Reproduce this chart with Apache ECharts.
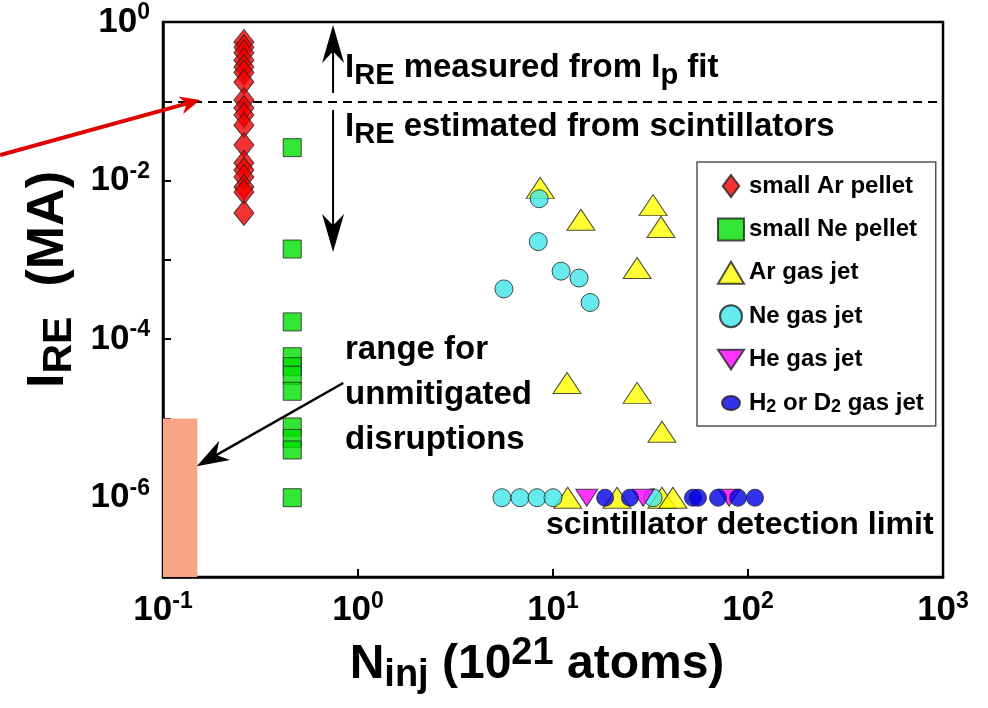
<!DOCTYPE html>
<html>
<head>
<meta charset="utf-8">
<script src="https://cdn.jsdelivr.net/npm/echarts@6/dist/echarts.min.js"></script>
<style>
  html, body { margin: 0; padding: 0; background: #fff; }
  #chart { width: 988px; height: 708px; }
</style>
</head>
<body>
<div id="chart"></div>
<script>
const FONT = '"Liberation Sans", Arial, Helvetica, sans-serif';

// Injected quantity N_inj (10^21 atoms) and runaway current I_RE (MA)
const arPelletN = [0.26, 0.26, 0.26, 0.26, 0.26, 0.26, 0.26, 0.26, 0.26, 0.26, 0.26, 0.26, 0.26, 0.26, 0.26, 0.26, 0.26, 0.26];
const arPelletI = [0.56, 0.48, 0.41, 0.33, 0.27, 0.23, 0.175, 0.104, 0.082, 0.067, 0.050, 0.028, 0.0167, 0.0136, 0.0111, 0.0083, 0.0072, 0.0039];

const nePelletN = [0.46, 0.46, 0.46, 0.46, 0.46, 0.46, 0.46, 0.46, 0.46, 0.46, 0.46];
const nePelletI = [0.026, 0.00137, 1.65e-4, 6.0e-5, 4.5e-5, 3.5e-5, 2.2e-5, 7.8e-6, 5.6e-6, 4.0e-6, 1.0e-6];

const arJetN = [8.6, 13.9, 32.6, 35.8, 27.0, 11.8, 27.0, 36.2, 11.9, 21.3, 36.2, 41.2];
const arJetI = [0.0081, 0.0032, 0.0049, 0.0026, 7.9e-4, 2.8e-5, 2.1e-5, 6.8e-6, 1e-6, 1e-6, 1e-6, 1e-6];

const neJetN = [8.5, 8.4, 11.0, 13.6, 15.5, 5.6, 5.47, 6.77, 8.28, 10.0, 32.6];
const neJetI = [0.0059, 0.0017, 7.2e-4, 5.9e-4, 2.9e-4, 4.3e-4, 1e-6, 1e-6, 1e-6, 1e-6, 1e-6];

const heJetN = [14.9, 29.0, 80.0];
const heJetI = [1e-6, 1e-6, 1e-6];

const hdJetN = [18.5, 24.8, 52.2, 55.4, 70.2, 88.9, 108.6];
const hdJetI = [1e-6, 1e-6, 1e-6, 1e-6, 1e-6, 1e-6, 1e-6];

const seriesNames = ['small Ar pellet', 'small Ne pellet', 'Ar gas jet', 'Ne gas jet', 'He gas jet', 'H2 or D2 gas jet'];

// Thresholds drawn as dashed lines (MA)
const ipFitThreshold = 0.1;
const detectionLimit = 1e-6;
// Range for unmitigated disruptions
const unmitigatedN = [0.1, 0.15];
const unmitigatedI = [1e-7, 1e-5];

// Decade exponents that carry tick labels
const xLabelExps = [-1, 0, 1, 2, 3];
const yLabelExps = [0, -2, -4, -6];

const chart = echarts.init(document.getElementById('chart'));

const tickRich = {
  b: { fontFamily: FONT, fontWeight: 'bold', fontSize: 35, lineHeight: 41, color: '#000' },
  s: { fontFamily: FONT, fontWeight: 'bold', fontSize: 23, lineHeight: 23, verticalAlign: 'top', color: '#000' }
};
function decadeLabel(v, allowed) {
  const e = Math.round(Math.log10(v));
  if (allowed.indexOf(e) < 0) return '';
  return '{b|10}{s|' + e + '}';
}
const pairs = (xs, ys) => xs.map((x, i) => [x, ys[i]]);
const edge = { borderColor: '#222', borderWidth: 1 };
const downTri = 'path://M0,0 L20,0 L10,15 Z';
const tallDiamond = 'path://M9,0 L18,12 L9,24 L0,12 Z';
// small ellipse inside a wider box so the legend icon keeps its size
const ellipse = 'path://M0,0 M26,22 M4,11 A9,7 0 1,0 22,11 A9,7 0 1,0 4,11 Z';

const option = {
  animation: false,
  backgroundColor: '#fff',
  grid: { left: 163, top: 22, right: 45, bottom: 131, show: true, borderColor: '#000', borderWidth: 2.5, containLabel: false },
  xAxis: {
    type: 'log', logBase: 10, min: 0.1, max: 1000, splitNumber: 4,
    axisLine: { lineStyle: { color: '#000', width: 2.5 } },
    axisTick: { inside: true, length: 8, lineStyle: { color: '#000', width: 2 } },
    splitLine: { show: false },
    axisLabel: { margin: 13, formatter: v => decadeLabel(v, xLabelExps), rich: tickRich },
    name: '{m|N}{sb|inj}{m| (10}{sp|21}{m| atoms)}',
    nameLocation: 'middle', nameGap: 58,
    nameTextStyle: {
      padding: [0, 32, 0, 0],
      rich: {
        m: { fontFamily: FONT, fontWeight: 'bold', fontSize: 48, lineHeight: 60, color: '#000' },
        sb: { fontFamily: FONT, fontWeight: 'bold', fontSize: 38, lineHeight: 38, verticalAlign: 'bottom', color: '#000' },
        sp: { fontFamily: FONT, fontWeight: 'bold', fontSize: 38, lineHeight: 38, verticalAlign: 'top', color: '#000' }
      }
    }
  },
  yAxis: {
    type: 'log', logBase: 10, min: 1e-7, max: 1, splitNumber: 7,
    axisLine: { lineStyle: { color: '#000', width: 2.5 } },
    axisTick: { inside: true, length: 8, lineStyle: { color: '#000', width: 2 } },
    splitLine: { show: false },
    axisLabel: { margin: 13, formatter: v => decadeLabel(v, yLabelExps), rich: tickRich },
    name: '{m|I}{sb|RE}{g| }{m|(MA)}',
    nameLocation: 'middle', nameGap: 82, nameRotate: 90,
    nameTextStyle: {
      padding: [0, 0, 0, 40],
      rich: {
        m: { fontFamily: FONT, fontWeight: 'bold', fontSize: 52, lineHeight: 62, color: '#000' },
        sb: { fontFamily: FONT, fontWeight: 'bold', fontSize: 41, lineHeight: 41, verticalAlign: 'bottom', color: '#000' },
        g: { fontSize: 48, width: 30 }
      }
    }
  },
  legend: {
    left: 697, top: 162, orient: 'vertical',
    padding: [12, 12, 10, 20],
    itemGap: 19.4, itemWidth: 26, itemHeight: 22,
    borderColor: '#555', borderWidth: 1.5, backgroundColor: '#fff',
    data: [
      { name: seriesNames[0], icon: tallDiamond },
      { name: seriesNames[1], icon: 'rect' },
      { name: seriesNames[2], icon: 'triangle' },
      { name: seriesNames[3], icon: 'circle' },
      { name: seriesNames[4], icon: downTri },
      { name: seriesNames[5], icon: ellipse }
    ],
    formatter: name => name === seriesNames[5]
      ? '{t|H}{s|2}{t| or D}{s|2}{t| gas jet}'
      : '{t|' + name + '}',
    textStyle: {
      rich: {
        t: { fontFamily: FONT, fontWeight: 'bold', fontSize: 24, lineHeight: 26, color: '#000' },
        s: { fontFamily: FONT, fontWeight: 'bold', fontSize: 18, lineHeight: 18, verticalAlign: 'bottom', color: '#000' }
      }
    }
  },
  series: [
    {
      name: seriesNames[0], type: 'scatter', symbol: 'diamond', symbolSize: [20, 25],
      itemStyle: Object.assign({ color: '#F00000' }, edge),
      data: pairs(arPelletN, arPelletI), z: 5,
      markLine: {
        silent: true, symbol: 'none', label: { show: false },
        lineStyle: { color: '#000', type: [9, 6], width: 2 },
        data: [{ yAxis: ipFitThreshold }, { yAxis: detectionLimit }]
      },
      markArea: {
        silent: true,
        itemStyle: { color: '#F9A585', opacity: 1 },
        data: [[{ coord: [unmitigatedN[0], unmitigatedI[0]] }, { coord: [unmitigatedN[1], unmitigatedI[1]] }]]
      }
    },
    {
      name: seriesNames[1], type: 'scatter', symbol: 'rect', symbolSize: 18,
      itemStyle: Object.assign({ color: '#00E000' }, edge),
      data: pairs(nePelletN, nePelletI), z: 5
    },
    {
      name: seriesNames[2], type: 'scatter', symbol: 'triangle', symbolSize: [28, 21],
      itemStyle: Object.assign({ color: '#FFFF00' }, edge),
      data: pairs(arJetN, arJetI), z: 5
    },
    {
      name: seriesNames[3], type: 'scatter', symbol: 'circle', symbolSize: 18,
      itemStyle: Object.assign({ color: '#3FE6EA' }, edge),
      data: pairs(neJetN, neJetI), z: 5
    },
    {
      name: seriesNames[4], type: 'scatter', symbol: downTri, symbolSize: [22, 17],
      itemStyle: Object.assign({ color: '#FF00FF' }, edge),
      data: pairs(heJetN, heJetI), z: 5
    },
    {
      name: seriesNames[5], type: 'scatter', symbol: 'circle', symbolSize: 17,
      itemStyle: Object.assign({ color: '#0000E6' }, edge),
      data: pairs(hdJetN, hdJetI), z: 5
    }
  ]
};
chart.setOption(option);

// ---- Annotations, placed in data coordinates ----
const px = p => chart.convertToPixel({ xAxisIndex: 0, yAxisIndex: 0 }, p);

function arrow(from, to, o) {
  const a = px(from), b = px(to);
  const dx = b[0] - a[0], dy = b[1] - a[1];
  const len = Math.hypot(dx, dy);
  const ux = dx / len, uy = dy / len;
  const nx = -uy, ny = ux;
  const bx = b[0] - ux * o.head, by = b[1] - uy * o.head;
  const notch = o.head * 0.3;
  const cx = bx + ux * notch, cy = by + uy * notch;
  return [
    { type: 'line', z: 100, silent: true,
      shape: { x1: a[0], y1: a[1], x2: cx, y2: cy },
      style: { stroke: o.color, lineWidth: o.width } },
    { type: 'polygon', z: 100, silent: true,
      shape: { points: [[b[0], b[1]], [bx + nx * o.half, by + ny * o.half], [cx, cy], [bx - nx * o.half, by - ny * o.half]] },
      style: { fill: o.color } }
  ];
}

const annoRich = {
  m: { fontFamily: FONT, fontWeight: 'bold', fontSize: 33, lineHeight: 46, fill: '#000' },
  sb: { fontFamily: FONT, fontWeight: 'bold', fontSize: 29, lineHeight: 29, verticalAlign: 'bottom', fill: '#000' }
};
function label(at, text, rich) {
  const p = px(at);
  return { type: 'text', z: 100, silent: true, x: p[0], y: p[1],
    style: { text: text, rich: rich || annoRich, align: 'left', verticalAlign: 'middle',
      fontFamily: FONT, fontWeight: 'bold', fontSize: 33, fill: '#000' } };
}

const blackArrow = { color: '#000', width: 2, head: 38, half: 11 };
const graphics = [].concat(
  arrow([0.745, 0.127], [0.745, 0.917], blackArrow),
  arrow([0.745, 0.0776], [0.745, 1.26e-3], blackArrow),
  arrow([0.84, 2.8e-5], [0.149, 2.5e-6], { color: '#000', width: 2.5, head: 32, half: 11 }),
  arrow([0.0146, 0.021], [0.155, 0.104], { color: '#E00000', width: 4, head: 20, half: 9 }),
  [
    label([0.858, 0.263], '{m|I}{sb|RE}{m| measured from I}{sb|p}{m| fit}'),
    label([0.858, 0.0474], '{m|I}{sb|RE}{m| estimated from scintillators}'),
    label([0.858, 7.3e-5], '{m|range for}'),
    label([0.858, 1.98e-5], '{m|unmitigated}'),
    label([0.858, 5.4e-6], '{m|disruptions}'),
    label([9.2, 4.5e-7], '{m|scintillator detection limit}', {
      m: { fontFamily: FONT, fontWeight: 'bold', fontSize: 32, lineHeight: 40, fill: '#000' }
    })
  ]
);
chart.setOption({ graphic: { elements: graphics } });
</script>
</body>
</html>
